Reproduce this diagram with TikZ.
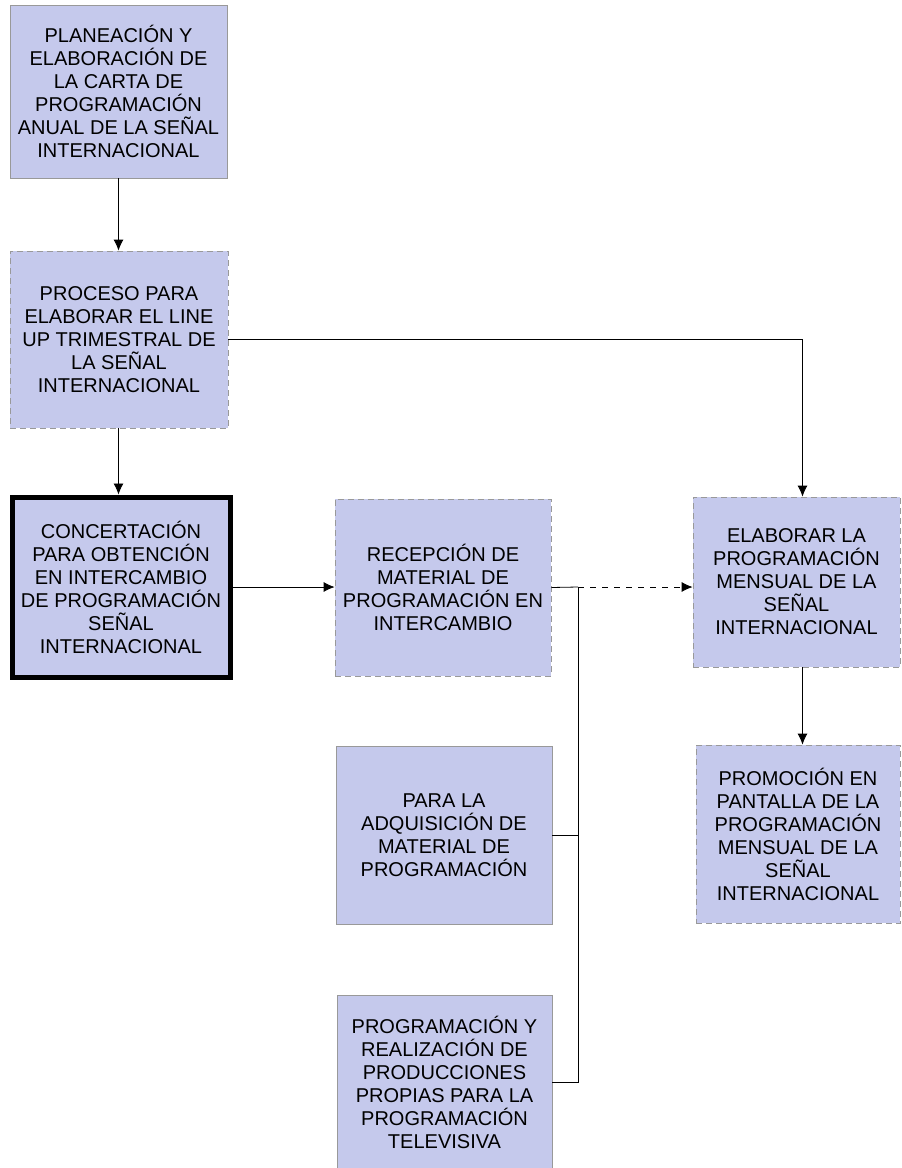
\documentclass[tikz,border=0pt]{standalone}
\usepackage{fontspec}
\setmainfont{Liberation Sans}
\usetikzlibrary{arrows.meta}
\definecolor{boxfill}{RGB}{197,201,236}

\begin{document}
\begin{tikzpicture}[x=0.5pt, y=-0.5pt, font=\fontsize{10}{11.5}\selectfont,
PlainBox/.style={draw=gray!80, line width=0.4pt, fill=boxfill, align=center, inner sep=0pt},
DashBox/.style={PlainBox, densely dashed},
ThickBox/.style={PlainBox, draw=black, line width=2.5pt},
>={Latex[length=5.5pt, width=5pt]}]
\useasboundingbox (0,0) rectangle (901,1168);
\foreach \name/\cx/\cy/\w/\h/\styl/\txt in {
  A/118.5/91.5/217/173/PlainBox/{PLANEACIÓN Y\\ELABORACIÓN DE\\LA CARTA DE\\PROGRAMACIÓN\\ANUAL DE LA SEÑAL\\INTERNACIONAL},
  B/119/339.5/218/177/DashBox/{PROCESO PARA\\ELABORAR EL LINE\\UP TRIMESTRAL DE\\LA SEÑAL\\INTERNACIONAL},
  C/121/587/218/180/ThickBox/{CONCERTACIÓN\\PARA OBTENCIÓN\\EN INTERCAMBIO\\DE PROGRAMACIÓN\\SEÑAL\\INTERNACIONAL},
  D/443/587.5/216/177/DashBox/{RECEPCIÓN DE\\MATERIAL DE\\PROGRAMACIÓN EN\\INTERCAMBIO},
  E/444/835/216/178/PlainBox/{PARA LA\\ADQUISICIÓN DE\\MATERIAL DE\\PROGRAMACIÓN},
  F/444.5/1082/215/174/PlainBox/{PROGRAMACIÓN Y\\REALIZACIÓN DE\\PRODUCCIONES\\PROPIAS PARA LA\\PROGRAMACIÓN\\TELEVISIVA},
  G/796.5/582/207/170/DashBox/{ELABORAR LA\\PROGRAMACIÓN\\MENSUAL DE LA\\SEÑAL\\INTERNACIONAL},
  H/798/834/204/178/DashBox/{PROMOCIÓN EN\\PANTALLA DE LA\\PROGRAMACIÓN\\MENSUAL DE LA\\SEÑAL\\INTERNACIONAL}%
} {
  \node [\styl, minimum width={\w*0.5pt}, minimum height={\h*0.5pt}] (\name) at (\cx, \cy) {\txt};
}
\coordinate (J) at (578, 587);
\coordinate (GTop) at ([xshift=3pt]G.north);
\draw [->] (A.south) -- (A.south |- B.north);
\draw [->] (A.south |- B.south) -- (A.south |- C.north);
\draw [->] (B.east) -| (GTop);
\draw [->] (C.east) -- (C.east -| D.west);
\draw (D.east) -- (J);
\draw [->, dashed] (J) -- (J -| G.west);
\draw (J) |- (F.east);
\draw (E.east) -- (E.east -| J);
\draw [->] (GTop |- G.south) -- (GTop |- H.north);
\end{tikzpicture}
\end{document}
